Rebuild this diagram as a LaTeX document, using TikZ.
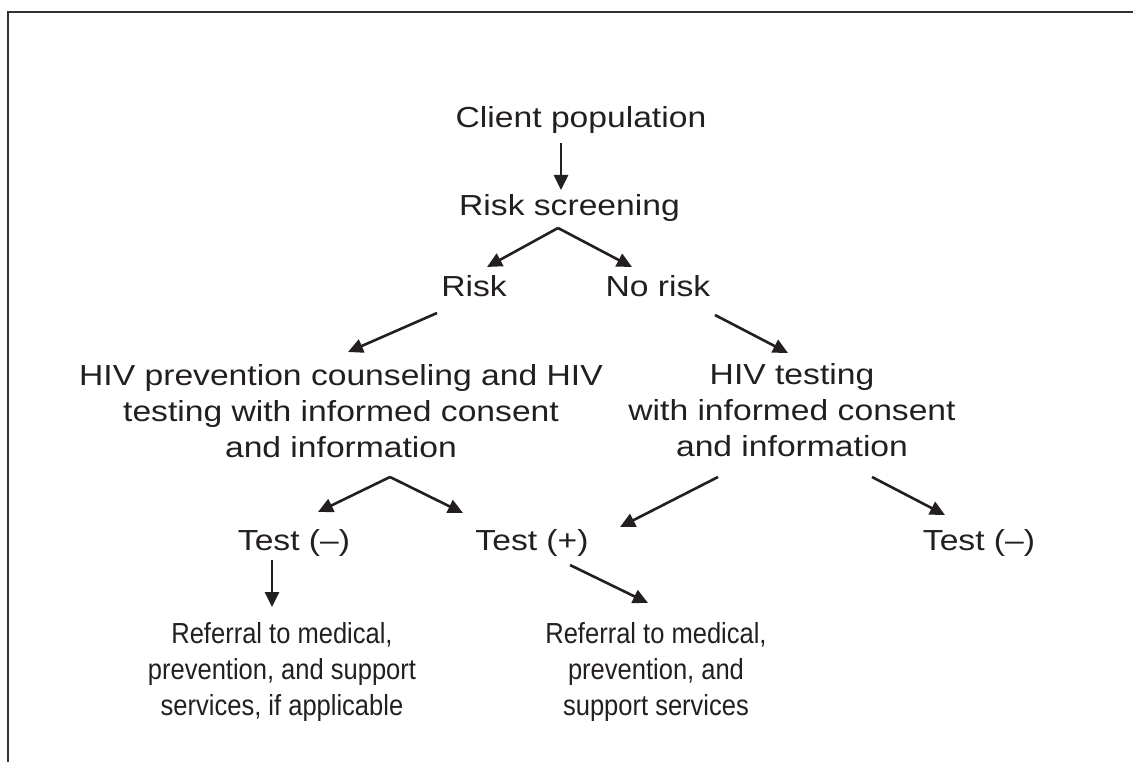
\documentclass[tikz,border=0pt]{standalone}
\usepackage{fontspec}
\setmainfont{Liberation Sans}[FakeStretch=1.16]
\newfontfamily\condfont{Liberation Sans}[FakeStretch=0.88]
\usetikzlibrary{arrows.meta}
\definecolor{ink}{HTML}{231F20}
\definecolor{framec}{HTML}{333333}
\begin{document}
\begin{tikzpicture}[x=1pt,y=-1pt,
  lbl/.style={font=\fontsize{29}{36}\selectfont, inner sep=0pt, anchor=base, text=ink},
  blk/.style={font=\fontsize{29}{36}\selectfont, inner sep=0pt, anchor=north, align=center, text=ink},
  cblk/.style={font=\condfont\fontsize{29}{36}\selectfont, inner sep=0pt, anchor=north, align=center, text=ink},
  arr/.style={draw=ink, line width=2.6pt, -{Triangle[length=15pt,width=14pt]}},
  stem/.style={draw=ink, line width=2.6pt}]
\useasboundingbox (0,0) rectangle (1133,762);
% frame
\draw[framec, line width=2.6pt] (8,762) -- (8,12.2) -- (1133,12.2);
% nodes
\node[lbl] (client) at (581,128) {Client population};
\node[lbl] (screen) at (569.5,216) {Risk screening};
\node[lbl] (risk) at (474,297) {Risk};
\node[lbl] (norisk) at (658,297) {No risk};
\node[blk] (prev) at (341,364) {HIV prevention counseling and HIV\\testing with informed consent\\and information};
\node[blk] (hivtest) at (792,363) {HIV testing\\with informed consent\\and information};
\node[lbl] (negL) at (294,550) {Test (–)};
\node[lbl] (pos) at (532,550) {Test (+)};
\node[lbl] (negR) at (979,550) {Test (–)};
\node[cblk] (refL) at (282,622) {Referral to medical,\\prevention, and support\\services, if applicable};
\node[cblk] (refR) at (656,622) {Referral to medical,\\prevention, and\\support services};
% connector points
\coordinate (c1s) at (561,143);
\coordinate (c1e) at (561,190);
\coordinate (sApex) at (558,228);
\coordinate (sL) at (487,267);
\coordinate (sR) at (632,267);
\coordinate (rS) at (437,313);
\coordinate (rE) at (348,352);
\coordinate (nS) at (715,315);
\coordinate (nE) at (788,353);
\coordinate (pApex) at (390,477);
\coordinate (pL) at (318,512);
\coordinate (pR) at (463,513);
\coordinate (hS) at (718,477);
\coordinate (hE) at (620,527);
\coordinate (hS2) at (872,477);
\coordinate (hE2) at (945,515);
\coordinate (nlS) at (272,560);
\coordinate (nlE) at (272,607);
\coordinate (psS) at (570,565);
\coordinate (psE) at (648,603);
% connectors
\draw[arr] (c1s) -- (c1e);
\draw[arr] (sApex) -- (sL);
\draw[arr] (sApex) -- (sR);
\draw[arr] (rS) -- (rE);
\draw[arr] (nS) -- (nE);
\draw[arr] (pApex) -- (pL);
\draw[arr] (pApex) -- (pR);
\draw[arr] (hS) -- (hE);
\draw[arr] (hS2) -- (hE2);
\draw[arr] (nlS) -- (nlE);
\draw[arr] (psS) -- (psE);
\end{tikzpicture}
\end{document}
